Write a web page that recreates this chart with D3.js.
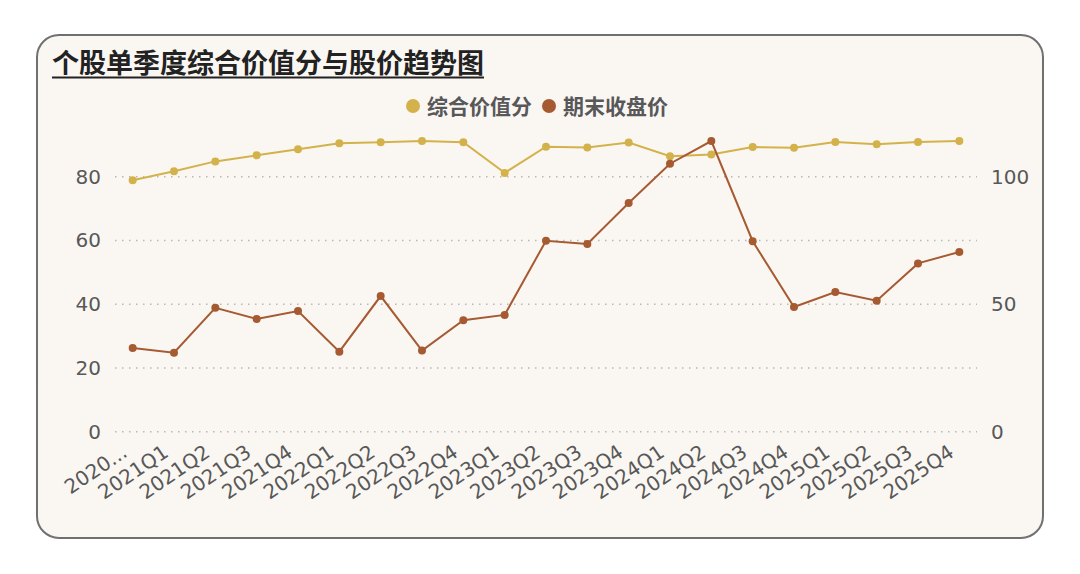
<!DOCTYPE html>
<html>
<head>
<meta charset="utf-8">
<script src="https://cdn.jsdelivr.net/npm/d3@7"></script>
<style>
  body { margin: 0; background: #ffffff; }
  svg { display: block; }
</style>
</head>
<body>
<script>
// quarters on the x axis (first one is cut off in the original)
var quarters = ["2020...", "2021Q1", "2021Q2", "2021Q3", "2021Q4",
    "2022Q1", "2022Q2", "2022Q3", "2022Q4",
    "2023Q1", "2023Q2", "2023Q3", "2023Q4",
    "2024Q1", "2024Q2", "2024Q3", "2024Q4",
    "2025Q1", "2025Q2", "2025Q3", "2025Q4"];

// 综合价值分 (left axis)
var scoreValues = [78.9, 81.7, 84.8, 86.7, 88.6, 90.5, 90.8, 91.2, 90.8, 81.2,
    89.4, 89.2, 90.7, 86.4, 87.0, 89.3, 89.1, 90.9, 90.2, 90.9, 91.2];

// 期末收盘价 (right axis)
var priceValues = [32.8, 31.0, 48.6, 44.2, 47.3, 31.4, 53.2, 31.8, 43.7, 45.8,
    74.9, 73.6, 89.7, 105.1, 114.0, 74.7, 48.9, 54.8, 51.4, 66.0, 70.5];

var leftTicks = [0, 20, 40, 60, 80];
var rightTicks = [0, 50, 100];

var seriesNames = ["综合价值分", "期末收盘价"];
var gold = "#d4b24b", brown = "#a65a31";
var textColor = "#585858";

var W = 1080, H = 574;
var plot = { left: 112, right: 980, top: 141, bottom: 431.7 };

var svg = d3.select("body").append("svg")
    .attr("width", W)
    .attr("height", H);

// card background
svg.append("rect")
    .attr("x", 37).attr("y", 35)
    .attr("width", 1006).attr("height", 503)
    .attr("rx", 22).attr("ry", 22)
    .attr("fill", "#faf7f3")
    .attr("stroke", "#707070")
    .attr("stroke-width", 2);

// title + underline
var title = svg.append("text")
    .attr("x", 52).attr("y", 73)
    .attr("font-family", "'Noto Sans CJK SC', sans-serif")
    .attr("font-size", "27px")
    .attr("font-weight", "bold")
    .attr("fill", "#222")
    .text("个股单季度综合价值分与股价趋势图");

var tw = title.node().getComputedTextLength();
svg.append("line")
    .attr("x1", 52).attr("x2", 52 + tw)
    .attr("y1", 77.5).attr("y2", 77.5)
    .attr("stroke", "#222").attr("stroke-width", 2);

// scales
var xScale = d3.scaleBand()
    .domain(quarters)
    .range([plot.left, plot.right]);

function cx(d) { return xScale(d) + xScale.bandwidth() / 2; }

var yLeft = d3.scaleLinear()
    .domain([0, d3.max(scoreValues)])
    .range([plot.bottom, plot.top]);

var yRight = d3.scaleLinear()
    .domain([0, d3.max(priceValues)])
    .range([plot.bottom, plot.top]);

// dotted grid lines
svg.append("g").selectAll("line")
    .data(leftTicks)
    .enter().append("line")
    .attr("x1", plot.left + 3).attr("x2", plot.right - 3)
    .attr("y1", function (d) { return yLeft(d); })
    .attr("y2", function (d) { return yLeft(d); })
    .attr("stroke", "#b8b8b8")
    .attr("stroke-width", 1.4)
    .attr("stroke-dasharray", "1.5,5.5");

// axes (no domain lines or ticks, just labels)
var yAxisLeft = d3.axisLeft(yLeft).tickValues(leftTicks).tickSize(0).tickPadding(0);
var gl = svg.append("g")
    .attr("transform", "translate(101,0)")
    .call(yAxisLeft);

var yAxisRight = d3.axisRight(yRight).tickValues(rightTicks).tickSize(0).tickPadding(0);
var gr = svg.append("g")
    .attr("transform", "translate(991,0)")
    .call(yAxisRight);

var xAxis = d3.axisBottom(xScale).tickSize(0).tickPadding(0);
var gx = svg.append("g")
    .attr("transform", "translate(0," + plot.bottom + ")")
    .call(xAxis);

[gl, gr, gx].forEach(function (g) {
    g.select(".domain").remove();
    g.selectAll("text")
        .attr("font-family", "'DejaVu Sans', Verdana, sans-serif")
        .attr("font-size", "20px")
        .attr("fill", textColor);
});

gx.selectAll("text")
    .attr("text-anchor", "end")
    .attr("y", 0)
    .attr("dy", "0.35em")
    .attr("transform", "translate(-8,18) rotate(-34)");

// lines
var scoreLine = d3.line()
    .x(function (d, i) { return cx(quarters[i]); })
    .y(function (d) { return yLeft(d); });

var priceLine = d3.line()
    .x(function (d, i) { return cx(quarters[i]); })
    .y(function (d) { return yRight(d); });

svg.append("path")
    .datum(scoreValues)
    .attr("d", scoreLine)
    .attr("fill", "none")
    .attr("stroke", gold)
    .attr("stroke-width", 2);

svg.selectAll(".scoreDot")
    .data(scoreValues)
    .enter().append("circle")
    .attr("class", "scoreDot")
    .attr("cx", function (d, i) { return cx(quarters[i]); })
    .attr("cy", function (d) { return yLeft(d); })
    .attr("r", 4)
    .attr("fill", gold);

svg.append("path")
    .datum(priceValues)
    .attr("d", priceLine)
    .attr("fill", "none")
    .attr("stroke", brown)
    .attr("stroke-width", 2);

svg.selectAll(".priceDot")
    .data(priceValues)
    .enter().append("circle")
    .attr("class", "priceDot")
    .attr("cx", function (d, i) { return cx(quarters[i]); })
    .attr("cy", function (d) { return yRight(d); })
    .attr("r", 4)
    .attr("fill", brown);

// legend
var legendItems = [
    { name: seriesNames[0], color: gold, x: 413 },
    { name: seriesNames[1], color: brown, x: 549 }
];

var lg = svg.selectAll(".legend")
    .data(legendItems)
    .enter().append("g")
    .attr("class", "legend");

lg.append("circle")
    .attr("cx", function (d) { return d.x; })
    .attr("cy", 106)
    .attr("r", 7)
    .attr("fill", function (d) { return d.color; });

lg.append("text")
    .attr("x", function (d) { return d.x + 14; })
    .attr("y", 106)
    .attr("dy", "0.36em")
    .attr("font-family", "'Noto Sans CJK SC', sans-serif")
    .attr("font-size", "21px")
    .attr("font-weight", "bold")
    .attr("fill", textColor)
    .text(function (d) { return d.name; });
</script>
</body>
</html>
